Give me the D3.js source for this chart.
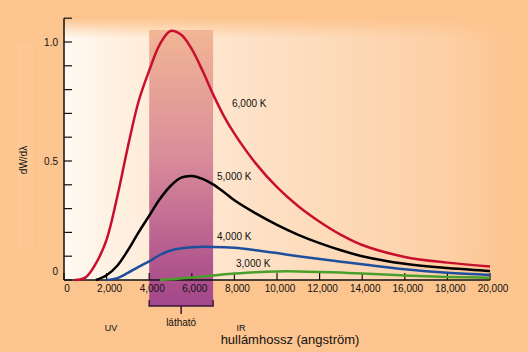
<!DOCTYPE html>
<html>
<head>
<meta charset="utf-8">
<script src="https://cdn.jsdelivr.net/npm/d3@7"></script>
<style>
  body { margin: 0; background: #fcc48e; }
  svg { display: block; }
  text { font-family: "Liberation Sans", Arial, sans-serif; fill: #111; }
</style>
</head>
<body>
<div id="chart"></div>
<script>
// wavelength samples (angstrom) and dW/dλ
var red6000 = [
  [500, 0], [1000, 0.01], [1500, 0.07], [2000, 0.17], [2500, 0.35], [3000, 0.56],
  [3500, 0.75], [4000, 0.88], [4500, 0.99], [5000, 1.046], [5500, 1.03], [6000, 0.97],
  [6500, 0.88], [7000, 0.78], [7500, 0.69], [8000, 0.615], [9000, 0.49], [10000, 0.39],
  [11000, 0.31], [12000, 0.245], [13000, 0.19], [14000, 0.147], [16000, 0.097],
  [18000, 0.073], [20000, 0.057]
];
var black5000 = [
  [1500, 0], [2000, 0.02], [2500, 0.06], [3000, 0.125], [3500, 0.2], [4000, 0.27],
  [4500, 0.34], [5000, 0.395], [5500, 0.43], [6000, 0.437], [6500, 0.425], [7000, 0.402],
  [7500, 0.37], [8000, 0.335], [9000, 0.28], [10000, 0.232], [11000, 0.19],
  [12000, 0.155], [13000, 0.125], [14000, 0.1], [16000, 0.068], [18000, 0.05], [20000, 0.038]
];
var blue4000 = [
  [2000, 0], [2500, 0.008], [3000, 0.03], [3500, 0.055], [4000, 0.078], [4500, 0.105],
  [5000, 0.124], [5500, 0.133], [6000, 0.138], [7000, 0.139], [8000, 0.135], [9000, 0.125],
  [10000, 0.113], [11000, 0.1], [12000, 0.088], [13000, 0.077], [14000, 0.066],
  [16000, 0.045], [18000, 0.03], [20000, 0.021]
];
var green3000 = [
  [4500, 0], [5000, 0.003], [5500, 0.007], [6000, 0.011], [7000, 0.019], [8000, 0.027],
  [9000, 0.033], [10000, 0.036], [11000, 0.036], [12000, 0.034], [13000, 0.031],
  [14000, 0.027], [16000, 0.019], [18000, 0.013], [20000, 0.009]
];
var curveLabels = ["6,000 K", "5,000 K", "4,000 K", "3,000 K"];
var xTicks = [0, 2000, 4000, 6000, 8000, 10000, 12000, 14000, 16000, 18000, 20000];
var yTicks = [0, 0.1, 0.2, 0.3, 0.4, 0.5, 0.6, 0.7, 0.8, 0.9, 1.0, 1.1];
var yTickLabels = {"0": "0", "0.5": "0.5", "1": "1.0"};
var visibleBand = [4000, 7000];
var regionLabels = ["UV", "látható", "IR"];

var width = 528, height = 352;

var svg = d3.select("#chart")
  .append("svg")
  .attr("width", width)
  .attr("height", height);

var x = d3.scaleLinear().domain([0, 20000]).range([64, 490]);
var y = d3.scaleLinear().domain([0, 1]).range([280, 42]);

var defs = svg.append("defs");

var bgGrad = defs.append("linearGradient").attr("id", "bg").attr("x1", 0).attr("x2", 1).attr("y1", 0).attr("y2", 0);
bgGrad.append("stop").attr("offset", "0%").attr("stop-color", "#fffaf3");
bgGrad.append("stop").attr("offset", "12%").attr("stop-color", "#fff0e0");
bgGrad.append("stop").attr("offset", "45%").attr("stop-color", "#fde0c4");
bgGrad.append("stop").attr("offset", "85%").attr("stop-color", "#fdd0a6");
bgGrad.append("stop").attr("offset", "100%").attr("stop-color", "#fcc48e");

var topGrad = defs.append("linearGradient").attr("id", "topfade").attr("x1", 0).attr("x2", 0).attr("y1", 0).attr("y2", 1);
topGrad.append("stop").attr("offset", "0%").attr("stop-color", "#fcc48e").attr("stop-opacity", 1);
topGrad.append("stop").attr("offset", "100%").attr("stop-color", "#fcc48e").attr("stop-opacity", 0);

var bandGrad = defs.append("linearGradient").attr("id", "band").attr("x1", 0).attr("x2", 0).attr("y1", 0).attr("y2", 1);
bandGrad.append("stop").attr("offset", "0%").attr("stop-color", "#f2b594");
bandGrad.append("stop").attr("offset", "45%").attr("stop-color", "#da8e9a");
bandGrad.append("stop").attr("offset", "85%").attr("stop-color", "#b2568e");
bandGrad.append("stop").attr("offset", "100%").attr("stop-color", "#a3468c");

// backgrounds
svg.append("rect")
  .attr("x", 0).attr("y", 0).attr("width", width).attr("height", height)
  .attr("fill", "#fcc48e");
svg.append("rect")
  .attr("x", 17).attr("y", 43).attr("width", 16).attr("height", 206)
  .attr("fill", "#fdc894");
svg.append("rect")
  .attr("x", x(0)).attr("y", 18).attr("width", 446).attr("height", y(0) - 18)
  .attr("fill", "url(#bg)");
svg.append("rect")
  .attr("x", x(0)).attr("y", 18).attr("width", 446).attr("height", 20)
  .attr("fill", "url(#topfade)");

// visible band, running below the axis
svg.append("rect")
  .attr("x", x(visibleBand[0]))
  .attr("y", 30)
  .attr("width", x(visibleBand[1]) - x(visibleBand[0]))
  .attr("height", 306 - 30)
  .attr("fill", "url(#band)");

var bx0 = x(visibleBand[0]), bx1 = x(visibleBand[1]), bmid = (bx0 + bx1) / 2;
svg.append("path")
  .attr("d", "M" + bx0 + ",300 V306 H" + bx1 + " V300 M" + bmid + ",306 V314")
  .attr("fill", "none")
  .attr("stroke", "#3a1838")
  .attr("stroke-width", 1.5);

// curves
var line = d3.line()
  .x(d => x(d[0]))
  .y(d => y(d[1]))
  .curve(d3.curveCatmullRom.alpha(0.5));

var series = [
  {data: green3000, color: "#4a9e2c"},
  {data: blue4000, color: "#1d4f9c"},
  {data: black5000, color: "#000000"},
  {data: red6000, color: "#c8102e"}
];

// axes
svg.append("line")
  .attr("x1", x(0)).attr("x2", x(20000)).attr("y1", y(0)).attr("y2", y(0))
  .attr("stroke", "#111").attr("stroke-width", 1.5);
svg.append("line")
  .attr("x1", x(0)).attr("x2", x(0)).attr("y1", y(0)).attr("y2", y(1.1))
  .attr("stroke", "#111").attr("stroke-width", 1.5);

svg.selectAll(".xtick")
  .data(xTicks)
  .enter()
  .append("line")
  .attr("x1", d => x(d)).attr("x2", d => x(d))
  .attr("y1", y(0)).attr("y2", y(0) - 7)
  .attr("stroke", "#111").attr("stroke-width", 1.2);

svg.selectAll(".ytick")
  .data(yTicks)
  .enter()
  .append("line")
  .attr("x1", x(0)).attr("x2", x(0) + 8)
  .attr("y1", d => y(d)).attr("y2", d => y(d))
  .attr("stroke", "#111").attr("stroke-width", 1.2);

svg.selectAll(".series")
  .data(series)
  .enter()
  .append("path")
  .attr("d", d => line(d.data))
  .attr("fill", "none")
  .attr("stroke", d => d.color)
  .attr("stroke-width", 2.5);

svg.selectAll(".xlabel")
  .data(xTicks)
  .enter()
  .append("text")
  .attr("x", d => x(d) + 3)
  .attr("y", 292)
  .attr("text-anchor", "middle")
  .style("font-size", "10px")
  .text(d => d3.format(",")(d));

svg.selectAll(".ylabel")
  .data(yTicks.filter(d => yTickLabels[String(+d.toFixed(1))] !== undefined))
  .enter()
  .append("text")
  .attr("x", 58)
  .attr("y", d => d === 0 ? y(d) - 5 : y(d) + 3.5)
  .attr("text-anchor", "end")
  .style("font-size", "10px")
  .text(d => yTickLabels[String(+d.toFixed(1))]);

// curve labels
var labelPos = [[232, 107], [217, 180], [217, 240], [236, 266.5]];
svg.selectAll(".clabel")
  .data(curveLabels)
  .enter()
  .append("text")
  .attr("x", (d, i) => labelPos[i][0])
  .attr("y", (d, i) => labelPos[i][1])
  .style("font-size", "10px")
  .text(d => d);

// region labels
svg.append("text").attr("x", 111).attr("y", 331).attr("text-anchor", "middle")
  .style("font-size", "9px").text(regionLabels[0]);
svg.append("text").attr("x", bmid).attr("y", 326).attr("text-anchor", "middle")
  .style("font-size", "10px").text(regionLabels[1]);
svg.append("text").attr("x", 241).attr("y", 331).attr("text-anchor", "middle")
  .style("font-size", "9px").text(regionLabels[2]);

// axis titles
svg.append("text")
  .attr("x", 290).attr("y", 344)
  .attr("text-anchor", "middle")
  .style("font-size", "13px")
  .text("hullámhossz (angström)");
svg.append("text")
  .attr("transform", "translate(27,160) rotate(-90)")
  .attr("text-anchor", "middle")
  .style("font-size", "10px")
  .text("dW/dλ");
</script>
</body>
</html>
